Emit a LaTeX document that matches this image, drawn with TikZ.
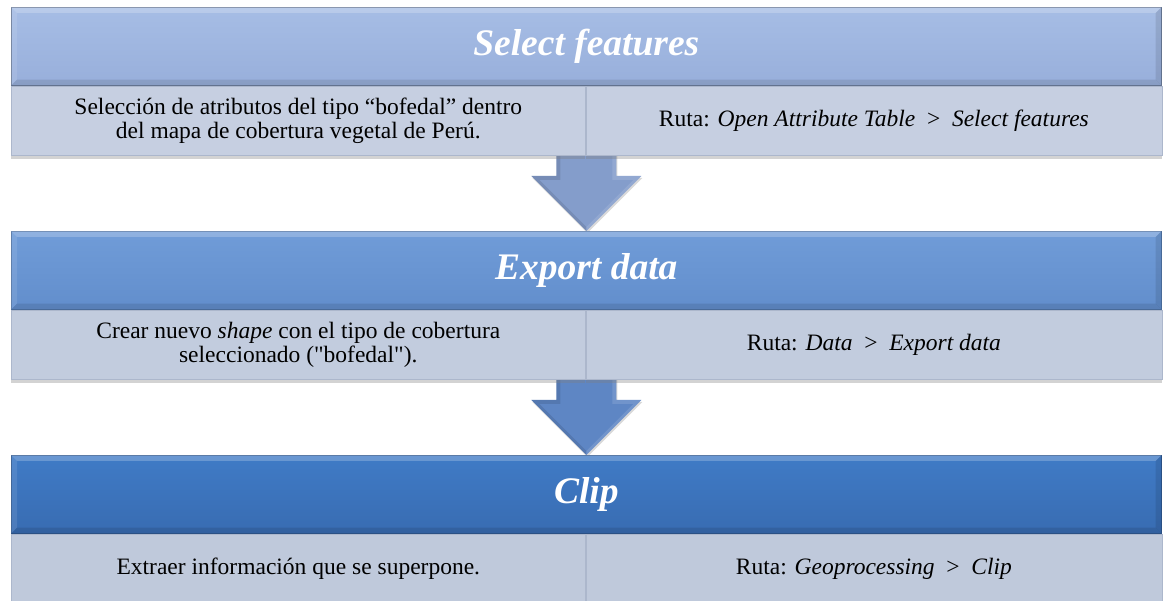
\documentclass[tikz,border=0pt]{standalone}
\usepackage{fontspec}
\setmainfont{Liberation Serif}[Ligatures=TeXOff]
\usetikzlibrary{shadows,calc,backgrounds}
\definecolor{hOneTop}{RGB}{166,189,229}
\definecolor{hOneBot}{RGB}{152,175,219}
\definecolor{hTwoTop}{RGB}{112,156,216}
\definecolor{hTwoBot}{RGB}{98,142,204}
\definecolor{hThreeTop}{RGB}{64,123,198}
\definecolor{hThreeBot}{RGB}{56,108,178}
\definecolor{cellOne}{RGB}{198,207,225}
\definecolor{cellTwo}{RGB}{194,204,222}
\definecolor{cellThree}{RGB}{191,201,219}
\definecolor{cellEdge}{RGB}{172,183,204}
\definecolor{arrOne}{RGB}{132,157,203}
\definecolor{arrTwo}{RGB}{94,134,196}
\newcommand\hbevel[1]{%
  \fill[white,opacity=0.22] (#1.north west) -- (#1.north east) -- ($(#1.north east)+(-6,-6)$) -- ($(#1.north west)+(6,-6)$) -- cycle;
  \fill[white,opacity=0.10] (#1.north west) -- ($(#1.north west)+(6,-6)$) -- ($(#1.south west)+(6,6)$) -- (#1.south west) -- cycle;
  \fill[black,opacity=0.10] (#1.north east) -- ($(#1.north east)+(-6,-6)$) -- ($(#1.south east)+(-6,6)$) -- (#1.south east) -- cycle;
  \fill[black,opacity=0.10] (#1.south west) -- (#1.south east) -- ($(#1.south east)+(-6,6)$) -- ($(#1.south west)+(6,6)$) -- cycle;
}
\newcommand\blockarrow[3]{%
  \fill[#3,drop shadow={shadow xshift=1pt,shadow yshift=-2pt,opacity=0.3}] let \p1=(#1.south), \p2=(#2.north) in
    (\x2-30,\y1+10) -- (\x2+30,\y1+10) -- (\x2+30,\y2+55) -- (\x2+55,\y2+55) -- (\x2,\y2)
    -- (\x2-55,\y2+55) -- (\x2-30,\y2+55) -- cycle;
  \fill[black,opacity=0.10] let \p1=(#1.south), \p2=(#2.north) in
    (\x2-55,\y2+55) -- (\x2-30,\y2+55) -- (\x2-30,\y1+10) -- (\x2-26,\y1+10) -- (\x2-26,\y2+51) -- (\x2-47,\y2+51) -- (\x2,\y2+4) -- (\x2,\y2) -- cycle;
  \fill[white,opacity=0.12] let \p1=(#1.south), \p2=(#2.north) in
    (\x2+55,\y2+55) -- (\x2+30,\y2+55) -- (\x2+30,\y1+10) -- (\x2+26,\y1+10) -- (\x2+26,\y2+51) -- (\x2+47,\y2+51) -- (\x2,\y2+4) -- (\x2,\y2) -- cycle;
}
\begin{document}
\begin{tikzpicture}[x=1pt,y=1pt,
  hdr/.style={rectangle, minimum width=1150pt, minimum height=78pt, inner sep=0pt, anchor=north west,
    text=white, font=\rmfamily\fontsize{37.5}{40}\selectfont\bfseries\itshape,
    drop shadow={shadow xshift=0pt,shadow yshift=-3pt,opacity=0.35}},
  cellbox/.style={rectangle, minimum height=69pt, inner sep=0pt, anchor=north west, align=center,
    font=\rmfamily\fontsize{23.5}{24}\selectfont, text=black, draw=cellEdge, line width=0.6pt,
    drop shadow={shadow xshift=0pt,shadow yshift=-4pt,opacity=0.35}},
  leftcell/.style={cellbox, minimum width=574pt},
  rightcell/.style={cellbox, minimum width=576pt},
]
\useasboundingbox (0,0) rectangle (1163,601);

% block 1
\node[hdr, top color=hOneTop, bottom color=hOneBot, draw=hOneBot!70!black, line width=0.6pt] (h1) at (11,594) {Select features};
\hbevel{h1}
\node[leftcell, fill=cellOne] (l1) at (h1.south west) {Selección de atributos del tipo “bofedal” dentro\\del mapa de cobertura vegetal de Perú.};
\node[rightcell, fill=cellOne] (r1) at (l1.north east) {Ruta: \textit{Open Attribute Table}\ \ >\ \ \textit{Select features}};

% block 2
\node[hdr, top color=hTwoTop, bottom color=hTwoBot, draw=hTwoBot!80!black, line width=0.6pt] (h2) at (11,370) {Export data};
\hbevel{h2}
\node[leftcell, fill=cellTwo] (l2) at (h2.south west) {Crear nuevo \textit{shape} con el tipo de cobertura\\seleccionado ("bofedal").};
\node[rightcell, fill=cellTwo] (r2) at (l2.north east) {Ruta: \textit{Data}\ \ >\ \ \textit{Export data}};

% block 3
\node[hdr, top color=hThreeTop, bottom color=hThreeBot, draw=hThreeBot!80!black, line width=0.6pt] (h3) at (11,146) {Clip};
\hbevel{h3}
\node[leftcell, fill=cellThree] (l3) at (h3.south west) {Extraer información que se superpone.};
\node[rightcell, fill=cellThree] (r3) at (l3.north east) {Ruta: \textit{Geoprocessing}\ \ >\ \ \textit{Clip}};

\begin{scope}[on background layer]
  \blockarrow{l1}{h2}{arrOne}
  \blockarrow{l2}{h3}{arrTwo}
\end{scope}
\end{tikzpicture}
\end{document}
